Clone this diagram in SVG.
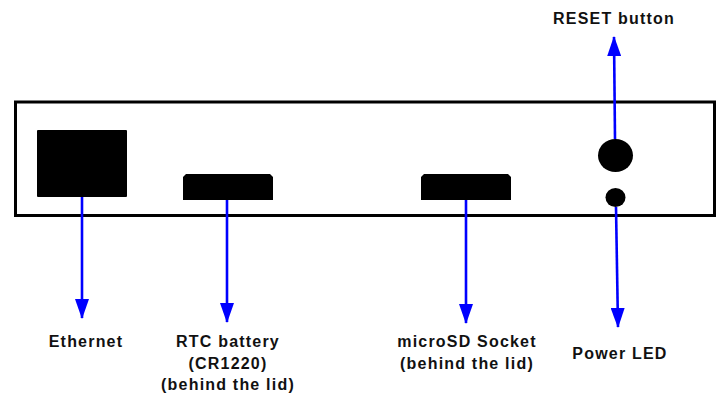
<svg xmlns="http://www.w3.org/2000/svg" width="722" height="400" viewBox="0 0 722 400">
<style>
  .lbl { font-family: "Liberation Sans", Arial, sans-serif; font-weight: bold; font-size: 16px; letter-spacing: 1.2px; fill: #111; text-anchor: middle; }
  .conn { stroke: #0000FF; stroke-width: 2.6; fill: none; marker-end: url(#ah); }
  .part { fill: #000; }
</style>
<defs>
  <marker id="ah" markerUnits="userSpaceOnUse" markerWidth="20" markerHeight="14" refX="19" refY="7" orient="auto" viewBox="0 0 20 14">
    <path d="M0,0 L20,7 L0,14 Z" fill="#0000FF"/>
  </marker>
</defs>
<rect width="722" height="400" fill="#fff"/>
<g id="case">
  <rect x="15.5" y="102" width="699" height="113.5" fill="#fff" stroke="#000" stroke-width="3"/>
</g>
<g id="ethernet">
  <rect class="part" x="37" y="130" width="90" height="67" rx="1"/>
</g>
<g id="rtc-battery">
  <polygon class="part" points="186,174 270,174 273,177 273,200 183,200 183,177"/>
</g>
<g id="microsd">
  <polygon class="part" points="424,174 508,174 511,177 511,200 421,200 421,177"/>
</g>
<g id="reset-button">
  <ellipse class="part" cx="615.5" cy="155.5" rx="17.5" ry="16.5"/>
</g>
<g id="power-led">
  <ellipse class="part" cx="615.5" cy="197.5" rx="10" ry="9.5"/>
</g>
<g id="connectors">
  <line class="conn" x1="82" y1="197" x2="82" y2="318"/>
  <line class="conn" x1="227" y1="200" x2="227" y2="322"/>
  <line class="conn" x1="466" y1="200" x2="466" y2="323"/>
  <line class="conn" x1="616" y1="207" x2="618" y2="327"/>
  <line class="conn" x1="615" y1="139" x2="614" y2="37"/>
</g>
<g id="labels">
  <text class="lbl" x="614" y="24">RESET button</text>
  <text class="lbl" x="86" y="347">Ethernet</text>
  <text class="lbl" x="228" y="347">RTC battery</text>
  <text class="lbl" x="228" y="368.5">(CR1220)</text>
  <text class="lbl" x="228" y="390">(behind the lid)</text>
  <text class="lbl" x="467" y="347">microSD Socket</text>
  <text class="lbl" x="467" y="368.5">(behind the lid)</text>
  <text class="lbl" x="620" y="359">Power LED</text>
</g>
</svg>
